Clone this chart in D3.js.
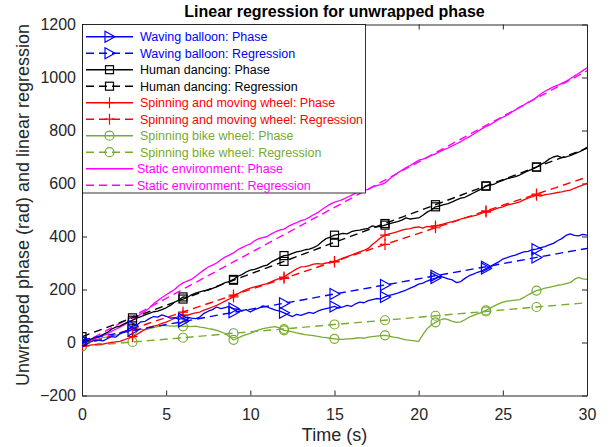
<!DOCTYPE html>
<html><head><meta charset="utf-8">
<script src="https://cdn.jsdelivr.net/npm/d3@7"></script>
<style>body{margin:0;background:#fff}svg{display:block}text{font-family:"Liberation Sans",Arial,sans-serif}</style>
</head><body><svg id="c" width="613" height="447"></svg>
<script>
// ---- data ----
const phaseTime = d3.range(0, 30.001, 0.25);
const markerTime = [0,3,6,9,12,15,18,21,24,27,30];
const xTicks = [0,5,10,15,20,25,30];
const yTicks = [-200,0,200,400,600,800,1000,1200];

const balloonPhase = [
-5,3,2,9, 8,6,14,22, 20,33,40,48, 62,66,78,80, 90,98,96,104,
99,92,94,88, 90,96,92,90, 96,110,118,124, 134,128,132,136, 128,126,120,124,
115,124,130,138, 134,128,122,118, 112,104,98,106, 102,108,114,110, 118,124,128,132,
136,130,134,140, 136,146,152,150, 158,162,166,164, 172,178,182,186, 192,198,205,212,
220,224,232,238, 243,250,246,240, 236,226,230,242, 252,258,265,270, 279,286,296,304,
315,320,326,330, 336,342,344,350, 352,358,362,368, 374,384,392,404, 410,404,402,408,
405];
const balloonReg = [10,45,79,114,148,183,217,252,286,321,355];
const dancingPhase = [
5,4,12,18, 22,30,38,50, 58,62,70,78, 84,92,98,104, 110,116,118,124,
131,140,152,160, 172,170,180,186, 191,196,198,204, 210,218,226,230, 238,250,256,266,
273,276,282,288, 292,304,312,320, 328,330,336,342, 345,350,352,358, 366,380,392,398,
405,408,412,410, 418,422,424,428, 431,440,436,438, 443,448,452,456, 462,470,466,468,
470,480,492,500, 512,516,520,524, 531,538,545,548, 556,564,572,580, 590,594,598,606,
612,618,622,626, 632,640,648,654, 662,672,680,692, 700,704,698,700, 705,712,718,726,
737];
const dancingReg = [22,93,164,235,306,378,449,520,591,662,733];
const wheelPhase = [
-15,-14,-10,-8, -5,-6,-2,0, 2,4,10,16, 22,30,40,50, 58,62,66,72,
77,84,92,98, 103,102,108,112, 115,122,128,134, 140,148,156,164, 172,184,192,200,
205,210,214,218, 222,230,236,242, 247,258,268,278, 285,286,290,296, 298,296,300,302,
304,312,318,324, 330,336,342,348, 355,370,382,396, 405,410,414,418, 424,428,430,434,
436,432,438,436, 440,444,448,452, 456,460,466,470, 474,478,482,488, 492,496,502,508,
512,518,522,526, 531,538,545,550, 556,552,558,560, 563,566,568,572, 575,582,588,594,
601];
const wheelReg = [-12,52,115,179,242,306,370,433,497,560,624];
const bikePhase = [
-15,-4,2,10, 14,18,20,24, 27,32,38,42, 46,50,50,48, 52,56,60,64,
65,62,62,64, 61,62,60,62, 58,56,52,50, 46,40,34,22, 10,16,24,30,
34,42,48,52, 55,58,60,54, 46,44,40,36, 33,30,28,26, 23,20,18,16,
14,12,12,14, 14,16,18,16, 20,22,24,26, 27,24,20,18, 14,10,8,6,
4,30,52,66, 76,84,90,86, 80,76,78,86, 96,102,108,114, 121,130,138,146,
152,156,158,160, 162,170,180,188, 196,200,205,208, 212,216,218,222, 226,238,246,240,
238];
const bikeReg = [-15,2,18,35,51,68,84,101,117,134,150];
const staticPhase = [
0,2,8,14, 20,26,32,42, 50,58,66,76, 85,96,108,118, 130,146,158,170,
180,190,200,214, 225,232,238,250, 262,274,285,292, 300,312,322,330, 338,350,358,366,
372,384,392,396, 400,410,418,424, 428,438,446,452, 460,464,472,482, 490,502,512,522,
530,534,540,548, 555,564,570,574, 578,586,592,596, 602,616,628,640, 650,660,668,678,
688,692,698,706, 712,720,728,734, 742,750,758,768, 776,786,796,806, 815,822,832,842,
850,858,868,878, 888,896,906,914, 925,938,948,956, 965,970,978,986, 995,1006,1015,1026,
1037];
const staticReg = [-5,98,201,304,407,510,613,716,819,922,1025];

const seriesNames = ["Waving balloon","Human dancing","Spinning and moving wheel","Spinning bike wheel","Static environment"];
const seriesColors = ["#0000ff","#000000","#ff0000","#77ac30","#ff00ff"];
const seriesMarkers = ["tri","square","plus","circle","none"];
const phases = [balloonPhase,dancingPhase,wheelPhase,bikePhase,staticPhase];
const regs = [balloonReg,dancingReg,wheelReg,bikeReg,staticReg];

// ---- chart ----
const svg = d3.select("#c");
const L=82, R=587, T=24.5, B=395.5;
const x = d3.scaleLinear().domain([0,30]).range([L,R]);
const y = d3.scaleLinear().domain([-200,1200]).range([B,T]);
const axCol = "#262626";

svg.append("defs").append("clipPath").attr("id","clip").append("rect")
  .attr("x",L).attr("y",T).attr("width",R-L).attr("height",B-T);

const gx = svg.append("g").attr("transform",`translate(0,${B})`)
  .call(d3.axisBottom(x).tickValues(xTicks).tickSize(-5).tickPadding(13).tickSizeOuter(0).tickFormat(d3.format("d")));
const gxt = svg.append("g").attr("transform",`translate(0,${T})`)
  .call(d3.axisTop(x).tickValues(xTicks).tickSize(-5).tickFormat("").tickSizeOuter(0));
const gy = svg.append("g").attr("transform",`translate(${L},0)`)
  .call(d3.axisLeft(y).tickValues(yTicks).tickSize(-5).tickPadding(6).tickSizeOuter(0).tickFormat(d3.format("d")));
const gyr = svg.append("g").attr("transform",`translate(${R},0)`)
  .call(d3.axisRight(y).tickValues(yTicks).tickSize(-5).tickFormat("").tickSizeOuter(0));
[gx,gxt,gy,gyr].forEach(g=>{
  g.selectAll("path.domain").attr("stroke",axCol).attr("stroke-width",1);
  g.selectAll("line").attr("stroke",axCol);
  g.selectAll("text").attr("fill",axCol).style("font-size","16px").style("font-family",'"Liberation Sans",Arial,sans-serif');
});

const plot = svg.append("g").attr("clip-path","url(#clip)");
const line = d3.line().x(d=>x(d[0])).y(d=>y(d[1]));

function marker(g, type, cx, cy, color){
  if(type==="tri"){
    g.append("path").attr("d",`M${cx-4.5},${cy-5.5}L${cx+5.5},${cy}L${cx-4.5},${cy+5.5}Z`)
      .attr("fill","none").attr("stroke",color).attr("stroke-width",1.2);
  } else if(type==="square"){
    g.append("rect").attr("x",cx-4).attr("y",cy-4).attr("width",8).attr("height",8)
      .attr("fill","none").attr("stroke",color).attr("stroke-width",1.2);
  } else if(type==="plus"){
    g.append("path").attr("d",`M${cx-5},${cy}H${cx+5}M${cx},${cy-5.5}V${cy+5.5}`)
      .attr("fill","none").attr("stroke",color).attr("stroke-width",1.2);
  } else if(type==="circle"){
    g.append("circle").attr("cx",cx).attr("cy",cy).attr("r",4.5)
      .attr("fill","none").attr("stroke",color).attr("stroke-width",1.2);
  }
}

const dash = "8,5";
for(let i=seriesNames.length-1;i>=0;i--){
  const col = seriesColors[i];
  const ph = phaseTime.map((t,k)=>[t,phases[i][k]]).filter(d=>d[1]!==undefined);
  const rg = markerTime.map((t,k)=>[t,regs[i][k]]);
  plot.append("path").datum(rg).attr("d",line).attr("fill","none").attr("stroke",col)
    .attr("stroke-width",1.4).attr("stroke-dasharray",dash);
  plot.append("path").datum(ph).attr("d",line).attr("fill","none").attr("stroke",col)
    .attr("stroke-width",1.3).attr("stroke-linejoin","round");
  markerTime.slice(0,10).forEach((t,k)=>{
    const pk = phaseTime.indexOf(t);
    marker(plot, seriesMarkers[i], x(t), y(phases[i][pk]), col);
    marker(plot, seriesMarkers[i], x(t), y(regs[i][k]), col);
  });
}

// legend
const lg = svg.append("g");
lg.append("rect").attr("x",L+0.5).attr("y",T).attr("width",283).attr("height",168.5)
  .attr("fill","#fff").attr("stroke","#000").attr("stroke-width",0.8);
let row=0;
seriesNames.forEach((n,i)=>{
  ["Phase","Regression"].forEach((kind)=>{
    const cy = 36.7 + row*16.5;
    const col = seriesColors[i];
    const l = lg.append("line").attr("x1",86).attr("x2",133).attr("y1",cy).attr("y2",cy)
      .attr("stroke",col).attr("stroke-width",1.4);
    if(kind==="Regression") l.attr("stroke-dasharray","8,5");
    marker(lg, seriesMarkers[i], 109.5, cy, col);
    lg.append("text").attr("x", seriesMarkers[i]==="none"?137:140).attr("y",cy+4.3)
      .attr("fill",col).style("font-size","12.5px").text(`${n}: ${kind}`);
    row++;
  });
});

// labels
svg.append("text").attr("x",(L+R)/2).attr("y",17).attr("text-anchor","middle")
  .style("font-weight","bold").style("font-size","16px").attr("fill","#000")
  .text("Linear regression for unwrapped phase");
svg.append("text").attr("x",(L+R)/2).attr("y",441).attr("text-anchor","middle")
  .style("font-size","18px").attr("fill",axCol).text("Time (s)");
svg.append("text").attr("transform",`translate(29,205) rotate(-90)`).attr("text-anchor","middle")
  .style("font-size","18px").attr("fill",axCol).text("Unwrapped phase (rad) and linear regression");
</script></body></html>
